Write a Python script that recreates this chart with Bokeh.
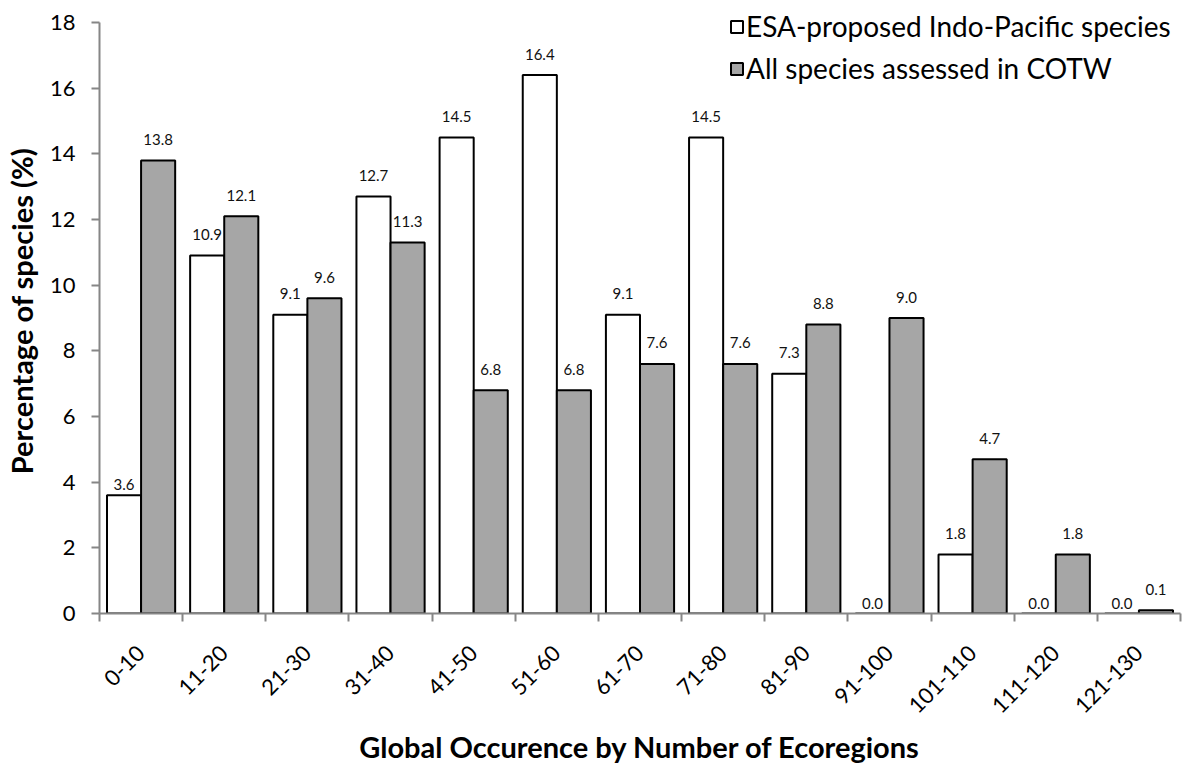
import math
from bokeh.plotting import figure
from bokeh.models import (ColumnDataSource, Range1d, FixedTicker, Legend, LegendItem,
                          LabelSet)
from bokeh.core.properties import value
from bokeh.embed import file_html
from bokeh.resources import INLINE

categories = ["0-10", "11-20", "21-30", "31-40", "41-50", "51-60", "61-70",
              "71-80", "81-90", "91-100", "101-110", "111-120", "121-130"]
esa_values = [3.6, 10.9, 9.1, 12.7, 14.5, 16.4, 9.1, 14.5, 7.3, 0.0, 1.8, 0.0, 0.0]
cotw_values = [13.8, 12.1, 9.6, 11.3, 6.8, 6.8, 7.6, 7.6, 8.8, 9.0, 4.7, 1.8, 0.1]
series_names = ["ESA-proposed Indo-Pacific species", "All species assessed in COTW"]
y_ticks = [0, 2, 4, 6, 8, 10, 12, 14, 16, 18]
Y_MAX = 18

# label raise above bar top (screen px), style only
esa_label_raise = [11, 21, 21, 21, 21, 21, 21, 21, 21, 10, 21, 10, 10]
cotw_label_raise = [21] * 13

FONT = "Lato"
AXIS_COLOR = "#868686"
BAR_W = 0.41
n = len(categories)
centers = [i + 0.5 for i in range(n)]
bounds = list(range(n + 1))

AXIS_PX = 591          # pixel height of the 0..18 axis
FRAME_H = 605          # frame extends above the axis top to give room for the legend
y_end = Y_MAX * FRAME_H / AXIS_PX

esa_src = ColumnDataSource(dict(
    x=[c - BAR_W / 2 for c in centers], top=esa_values,
    label=[f"{v:.1f}" for v in esa_values], yoff=esa_label_raise))
cotw_src = ColumnDataSource(dict(
    x=[c + BAR_W / 2 for c in centers], top=cotw_values,
    label=[f"{v:.1f}" for v in cotw_values], yoff=cotw_label_raise))

p = figure(frame_width=1081, frame_height=FRAME_H, output_backend="svg",
           toolbar_location=None, x_range=Range1d(0, n), y_range=Range1d(0, y_end),
           min_border_left=95, min_border_right=5, min_border_top=8, min_border_bottom=120)
p.outline_line_color = None
p.grid.grid_line_color = None
p.background_fill_color = "white"
p.border_fill_color = "white"

r1 = p.vbar(x="x", top="top", bottom=0, width=BAR_W, source=esa_src,
            fill_color="white", line_color="black", line_width=2)
r2 = p.vbar(x="x", top="top", bottom=0, width=BAR_W, source=cotw_src,
            fill_color="#a6a6a6", line_color="black", line_width=2)

for src in (esa_src, cotw_src):
    p.add_layout(LabelSet(x="x", y="top", text="label", source=src, y_offset="yoff",
                          text_align="center", text_baseline="middle",
                          text_font=value(FONT), text_font_size="15px",
                          text_color="#111111"))

# x axis
xa = p.xaxis[0]
xa.ticker = FixedTicker(ticks=centers, minor_ticks=bounds)
xa.major_label_overrides = {c: lab for c, lab in zip(centers, categories)}
xa.major_label_orientation = math.pi / 4
xa.major_tick_line_color = None
xa.major_tick_out = 0
xa.major_tick_in = 0
xa.minor_tick_line_color = AXIS_COLOR
xa.minor_tick_line_width = 2
xa.minor_tick_out = 8
xa.minor_tick_in = 0
xa.axis_line_color = AXIS_COLOR
xa.axis_line_width = 2
xa.major_label_standoff = 28
xa.major_label_text_font = FONT
xa.major_label_text_font_size = "22px"
xa.major_label_text_color = "black"
xa.axis_label = "Global Occurence by Number of Ecoregions"
xa.axis_label_text_font = FONT
xa.axis_label_text_font_style = "bold"
xa.axis_label_text_font_size = "29px"
xa.axis_label_text_color = "black"
xa.axis_label_standoff = 6

ya = p.yaxis[0]
ya.ticker = FixedTicker(ticks=y_ticks, minor_ticks=[])
ya.bounds = (0, Y_MAX)
ya.major_tick_out = 8
ya.major_tick_in = 0
ya.major_tick_line_color = AXIS_COLOR
ya.major_tick_line_width = 2
ya.axis_line_color = AXIS_COLOR
ya.axis_line_width = 2
ya.major_label_standoff = 16
ya.major_label_text_font = FONT
ya.major_label_text_font_size = "22px"
ya.major_label_text_color = "black"
ya.axis_label = "Percentage of species (%)"
ya.axis_label_text_font = FONT
ya.axis_label_text_font_style = "bold"
ya.axis_label_text_font_size = "29px"
ya.axis_label_text_color = "black"
ya.axis_label_standoff = 8

legend = Legend(items=[LegendItem(label=series_names[0], renderers=[r1]),
                       LegendItem(label=series_names[1], renderers=[r2])],
                location=(630, 528), margin=0, padding=0, spacing=8,
                glyph_width=15, glyph_height=15, label_standoff=2, label_height=30,
                label_text_font=FONT, label_text_font_size="28px",
                label_text_color="black",
                border_line_color=None, background_fill_alpha=0)
p.add_layout(legend)

open("out.html", "w").write(file_html(p, INLINE))
